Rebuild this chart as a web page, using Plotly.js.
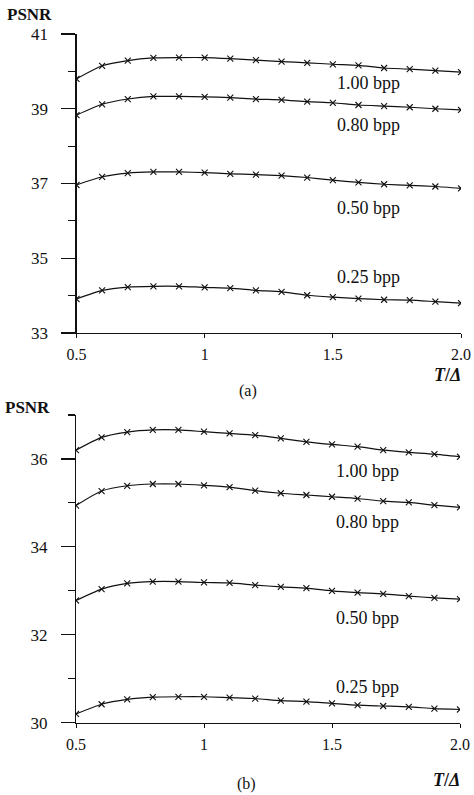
<!DOCTYPE html>
<html>
<head>
<meta charset="utf-8">
<script src="https://cdn.plot.ly/plotly-3.0.1.min.js"></script>
<style>
  html, body { margin: 0; padding: 0; background: #fff; }
  #chart { width: 474px; height: 795px; }
</style>
</head>
<body>
<div id="chart"></div>
<script>
// ---- Data ----
const tRatio = [0.5, 0.6, 0.7, 0.8, 0.9, 1.0, 1.1, 1.2, 1.3, 1.4, 1.5, 1.6, 1.7, 1.8, 1.9, 2.0];

// (a)
const a_100 = [39.80, 40.15, 40.29, 40.36, 40.37, 40.37, 40.34, 40.30, 40.26, 40.23, 40.19, 40.16, 40.09, 40.06, 40.02, 39.98];
const a_080 = [38.83, 39.12, 39.26, 39.33, 39.33, 39.32, 39.30, 39.26, 39.24, 39.19, 39.16, 39.10, 39.07, 39.04, 39.00, 38.97];
const a_050 = [36.96, 37.18, 37.28, 37.31, 37.31, 37.29, 37.26, 37.24, 37.21, 37.16, 37.09, 37.03, 36.98, 36.95, 36.92, 36.87];
const a_025 = [33.91, 34.14, 34.23, 34.25, 34.25, 34.22, 34.20, 34.14, 34.10, 34.01, 33.96, 33.92, 33.89, 33.88, 33.84, 33.80];

// (b)
const b_100 = [36.20, 36.49, 36.61, 36.66, 36.66, 36.62, 36.58, 36.54, 36.47, 36.39, 36.33, 36.28, 36.20, 36.15, 36.11, 36.05];
const b_080 = [34.94, 35.27, 35.39, 35.43, 35.43, 35.40, 35.36, 35.28, 35.22, 35.18, 35.14, 35.10, 35.04, 35.01, 34.95, 34.90];
const b_050 = [32.78, 33.04, 33.17, 33.21, 33.21, 33.19, 33.18, 33.13, 33.09, 33.06, 33.00, 32.96, 32.93, 32.88, 32.84, 32.81];
const b_025 = [30.20, 30.42, 30.53, 30.58, 30.59, 30.59, 30.57, 30.55, 30.50, 30.48, 30.44, 30.40, 30.38, 30.36, 30.32, 30.30];

const seriesLabels = ["1.00 bpp", "0.80 bpp", "0.50 bpp", "0.25 bpp"];
const xTickVals = [0.5, 1, 1.5, 2.0];
const xTickText = ["0.5", "1", "1.5", "2.0"];

// label anchor values (in data units)
const labelX = 1.64;
const labelYa = [39.69, 38.57, 36.35, 34.50];
const labelYb = [35.73, 34.57, 32.38, 30.82];

// ---- Build ----
const FONT = "'Liberation Serif', 'Times New Roman', Times, serif";

function mkTrace(y, xa, ya) {
  return {
    x: tRatio, y: y, xaxis: xa, yaxis: ya,
    type: 'scatter', mode: 'lines+markers',
    line: { color: '#111', width: 1.2, shape: 'spline', smoothing: 0.6 },
    marker: { symbol: 'x-thin-open', size: 6, color: '#111', line: { color: '#111', width: 1.1 } },
    showlegend: false, hoverinfo: 'skip'
  };
}

const traces = [
  mkTrace(a_100, 'x', 'y'), mkTrace(a_080, 'x', 'y'), mkTrace(a_050, 'x', 'y'), mkTrace(a_025, 'x', 'y'),
  mkTrace(b_100, 'x2', 'y2'), mkTrace(b_080, 'x2', 'y2'), mkTrace(b_050, 'x2', 'y2'), mkTrace(b_025, 'x2', 'y2')
];

const W = 474, H = 795;
const xDomA = [76.5 / W, 461 / W];
const xDomB = [76 / W, 460 / W];
const yDomA = [1 - 333 / H, 1 - 34 / H];
const yDomB = [1 - 722.7 / H, 1 - 415 / H];

function xAxis(domain, anchor) {
  return {
    domain: domain, anchor: anchor, range: [0.5, 2.0],
    showgrid: false, zeroline: false,
    showline: true, linecolor: '#111', linewidth: 1.2,
    ticks: 'outside', ticklen: 4, tickwidth: 1, tickcolor: '#111',
    tickvals: xTickVals, ticktext: xTickText,
    tickfont: { family: FONT, size: 16, color: '#111' },
    ticklabelstandoff: 3
  };
}
function yAxis(domain, anchor, range, tick0) {
  return {
    domain: domain, anchor: anchor, range: range,
    showgrid: false, zeroline: false,
    showline: true, linecolor: '#111', linewidth: 1.2,
    ticks: 'outside', ticklen: 14, tickwidth: 1.2, tickcolor: '#111',
    tick0: tick0, dtick: 2,
    minor: { dtick: 1, tick0: tick0 + 1, ticks: 'outside', ticklen: 7, tickwidth: 1.1, tickcolor: '#111', showgrid: false },
    tickfont: { family: FONT, size: 17, color: '#111' },
    ticklabelstandoff: 10
  };
}

const annotations = [];
seriesLabels.forEach((t, i) => {
  annotations.push({ x: labelX, y: labelYa[i], xref: 'x', yref: 'y', text: t, showarrow: false,
    font: { family: FONT, size: 18, color: '#111' }, xanchor: 'center', yanchor: 'middle' });
  annotations.push({ x: labelX, y: labelYb[i], xref: 'x2', yref: 'y2', text: t, showarrow: false,
    font: { family: FONT, size: 18, color: '#111' }, xanchor: 'center', yanchor: 'middle' });
});
const txt = (text, px, py, opts) => Object.assign({
  x: px / W, y: 1 - py / H, xref: 'paper', yref: 'paper', text: text, showarrow: false,
  xanchor: 'center', yanchor: 'middle', font: { family: FONT, size: 17, color: '#111' }
}, opts || {});
annotations.push(txt('<b>PSNR</b>', 29, 15));
annotations.push(txt('<b>PSNR</b>', 27, 407));
annotations.push(txt('<b><i>T</i>/<i>Δ</i></b>', 447, 375, { font: { family: FONT, size: 18, color: '#111' } }));
annotations.push(txt('<b><i>T</i>/<i>Δ</i></b>', 446, 780, { font: { family: FONT, size: 18, color: '#111' } }));
annotations.push(txt('(a)', 248, 391, { font: { family: FONT, size: 16, color: '#111' } }));
annotations.push(txt('(b)', 247, 784, { font: { family: FONT, size: 16, color: '#111' } }));

const layout = {
  width: W, height: H,
  margin: { l: 0, r: 0, t: 0, b: 0 },
  paper_bgcolor: '#fff', plot_bgcolor: '#fff',
  font: { family: FONT, color: '#111' },
  xaxis: xAxis(xDomA, 'y'),
  yaxis: yAxis(yDomA, 'x', [33, 41], 33),
  xaxis2: xAxis(xDomB, 'y2'),
  yaxis2: yAxis(yDomB, 'x2', [30, 37], 30),
  annotations: annotations
};

Plotly.newPlot('chart', traces, layout, { displayModeBar: false, staticPlot: true });
</script>
</body>
</html>
